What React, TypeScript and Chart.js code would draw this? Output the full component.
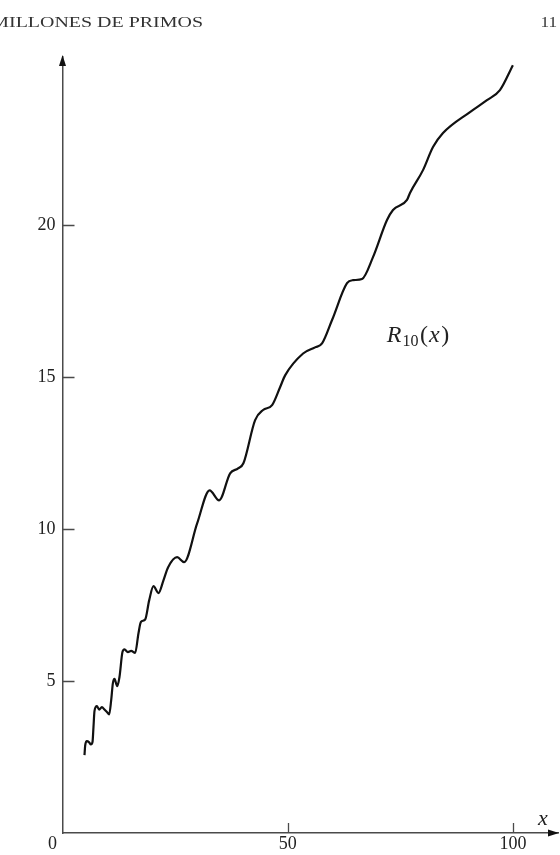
import React, { useEffect, useRef } from "react";
import { Chart, registerables } from "chart.js";

Chart.register(...registerables);

// R_10(x) sampled along the curve
const xValues = [
  4.88, 5.04, 5.41, 5.92, 6.3, 6.66, 6.88, 7.1, 7.63, 8.14, 8.74, 9.32, 9.85, 10.36,
  10.81, 11.18, 11.54, 12.14, 12.65, 13.31, 13.76, 14.51, 15.24, 16.13, 16.86, 17.4,
  18.35, 19.24, 20.19, 21.3, 22.41, 23.45, 25.45, 27.0, 29.89, 32.66, 34.77, 37.21,
  38.98, 40.16, 42.76, 44.53, 46.53, 48.3, 49.42, 53.41, 56.07, 57.62, 59.84, 63.16,
  64.49, 66.49, 68.93, 72.04, 73.37, 76.48, 77.14, 80.03, 82.25, 84.47, 90.46, 94.23,
  97.11, 99.99,
];
const rValues = [
  2.56, 2.88, 3.02, 2.98, 2.91, 2.99, 3.49, 4.01, 4.17, 4.06, 4.14, 4.06, 3.98, 3.9,
  4.37, 4.92, 5.07, 4.83, 5.13, 5.95, 6.04, 5.95, 5.99, 5.92, 6.56, 6.94,
  7.02, 7.65, 8.12, 7.89, 8.31, 8.74, 9.07, 8.91, 10.18, 11.27, 10.94, 11.83,
  11.99, 12.16, 13.58, 13.91, 14.07, 14.66, 15.05, 15.77, 15.97, 16.1, 16.87, 18.08,
  18.18, 18.22, 18.94, 20.16, 20.49, 20.82, 21.05, 21.8, 22.56, 23.02, 23.71, 24.1,
  24.43, 25.25,
];

const xTicks = [50, 100];
const yTicks = [5, 10, 15, 20];
const X_MAX = 110;
const Y_MAX = 25.52;

const headerText = "MILLONES DE PRIMOS";
const pageNumber = "11";

const INK = "#222";
const AXIS = "#4a4a4a";
const SERIF = "'Liberation Serif', 'DejaVu Serif', serif";

const decorations = {
  id: "decorations",
  afterDraw(chart: any) {
    const { ctx, chartArea, scales } = chart;
    const xs = scales.x;
    const ys = scales.y;
    const x0 = xs.getPixelForValue(0);
    const y0 = ys.getPixelForValue(0);
    ctx.save();

    // inward tick marks
    ctx.strokeStyle = AXIS;
    ctx.lineWidth = 1.3;
    ctx.beginPath();
    yTicks.forEach((v) => {
      const py = Math.round(ys.getPixelForValue(v)) + 0.5;
      ctx.moveTo(chartArea.left, py);
      ctx.lineTo(chartArea.left + 12, py);
    });
    xTicks.forEach((v) => {
      const px = Math.round(xs.getPixelForValue(v)) + 0.5;
      ctx.moveTo(px, chartArea.bottom);
      ctx.lineTo(px, chartArea.bottom - 10);
    });
    ctx.stroke();

    // arrow heads
    ctx.fillStyle = "#111";
    ctx.beginPath();
    ctx.moveTo(x0, chartArea.top - 2);
    ctx.lineTo(x0 - 3.5, chartArea.top + 9);
    ctx.lineTo(x0 + 3.5, chartArea.top + 9);
    ctx.closePath();
    ctx.fill();
    ctx.beginPath();
    ctx.moveTo(chartArea.right + 1, y0);
    ctx.lineTo(chartArea.right - 10, y0 - 3.5);
    ctx.lineTo(chartArea.right - 10, y0 + 3.5);
    ctx.closePath();
    ctx.fill();

    // origin label
    ctx.fillStyle = INK;
    ctx.font = `18px ${SERIF}`;
    ctx.textAlign = "center";
    ctx.textBaseline = "middle";
    ctx.fillText("0", x0 - 10, y0 + 11);

    // axis name
    ctx.font = `italic 22px ${SERIF}`;
    ctx.textAlign = "left";
    ctx.textBaseline = "alphabetic";
    ctx.fillText("x", chartArea.right - 20, y0 - 8);

    // curve label R_10(x)
    const lx = xs.getPixelForValue(72.0);
    const ly = ys.getPixelForValue(16.15);
    ctx.font = `italic 24px ${SERIF}`;
    ctx.fillText("R", lx, ly);
    let cx = lx + ctx.measureText("R").width + 1;
    ctx.font = `16px ${SERIF}`;
    ctx.fillText("10", cx, ly + 4);
    cx += ctx.measureText("10").width + 1.5;
    ctx.font = `24px ${SERIF}`;
    ctx.fillText("(", cx, ly);
    cx += ctx.measureText("(").width + 1;
    ctx.font = `italic 24px ${SERIF}`;
    ctx.fillText("x", cx, ly);
    cx += ctx.measureText("x").width + 1.5;
    ctx.font = `24px ${SERIF}`;
    ctx.fillText(")", cx, ly);

    // running head
    ctx.fillStyle = "#333";
    ctx.font = `14px ${SERIF}`;
    const rest = headerText.slice(1);
    const wRest = ctx.measureText(rest).width;
    const wM = ctx.measureText(headerText.slice(0, 1)).width;
    const sx = 194 / wRest;
    ctx.save();
    ctx.translate(9 - wM * sx, 27);
    ctx.scale(sx, 1);
    ctx.fillText(headerText, 0, 0);
    ctx.restore();
    ctx.textAlign = "right";
    ctx.font = `15px ${SERIF}`;
    ctx.save();
    ctx.translate(557, 27);
    ctx.scale(1.15, 1);
    ctx.fillText(pageNumber, 0, 0);
    ctx.restore();

    ctx.restore();
  },
};

export default function App() {
  const ref = useRef<HTMLCanvasElement | null>(null);

  useEffect(() => {
    document.body.style.margin = "0";
    const canvas = ref.current;
    if (!canvas) return;
    const points = xValues.map((x, i) => ({ x, y: rValues[i] }));
    const chart = new Chart(canvas, {
      type: "line",
      data: {
        datasets: [
          {
            data: points,
            borderColor: "#111",
            borderWidth: 2.2,
            pointRadius: 0,
            cubicInterpolationMode: "monotone",
            fill: false,
          },
        ],
      },
      options: {
        responsive: false,
        animation: false,
        devicePixelRatio: 1,
        layout: { padding: { left: 30.5, top: 57, right: 2, bottom: 0 } },
        plugins: { legend: { display: false }, tooltip: { enabled: false } },
        scales: {
          x: {
            type: "linear",
            min: 0,
            max: X_MAX,
            grid: { display: false, drawTicks: false },
            border: { display: true, color: AXIS, width: 1.5 },
            afterBuildTicks: (s: any) => {
              s.ticks = xTicks.map((v) => ({ value: v }));
            },
            ticks: {
              padding: 2,
              color: INK,
              font: { family: SERIF, size: 18, lineHeight: 1 },
              maxRotation: 0,
              callback: (v: any) => String(v),
            },
          },
          y: {
            type: "linear",
            min: 0,
            max: Y_MAX,
            grid: { display: false, drawTicks: false },
            border: { display: true, color: AXIS, width: 1.5 },
            afterBuildTicks: (s: any) => {
              s.ticks = yTicks.map((v) => ({ value: v }));
            },
            ticks: {
              padding: 7,
              color: INK,
              font: { family: SERIF, size: 18, lineHeight: 1 },
              callback: (v: any) => String(v),
            },
          },
        },
      },
      plugins: [decorations],
    });
    return () => chart.destroy();
  }, []);

  return (
    <div style={{ position: "absolute", left: 0, top: 0, width: 560, height: 855, background: "#fff" }}>
      <canvas ref={ref} width={560} height={855} style={{ display: "block" }} />
    </div>
  );
}
